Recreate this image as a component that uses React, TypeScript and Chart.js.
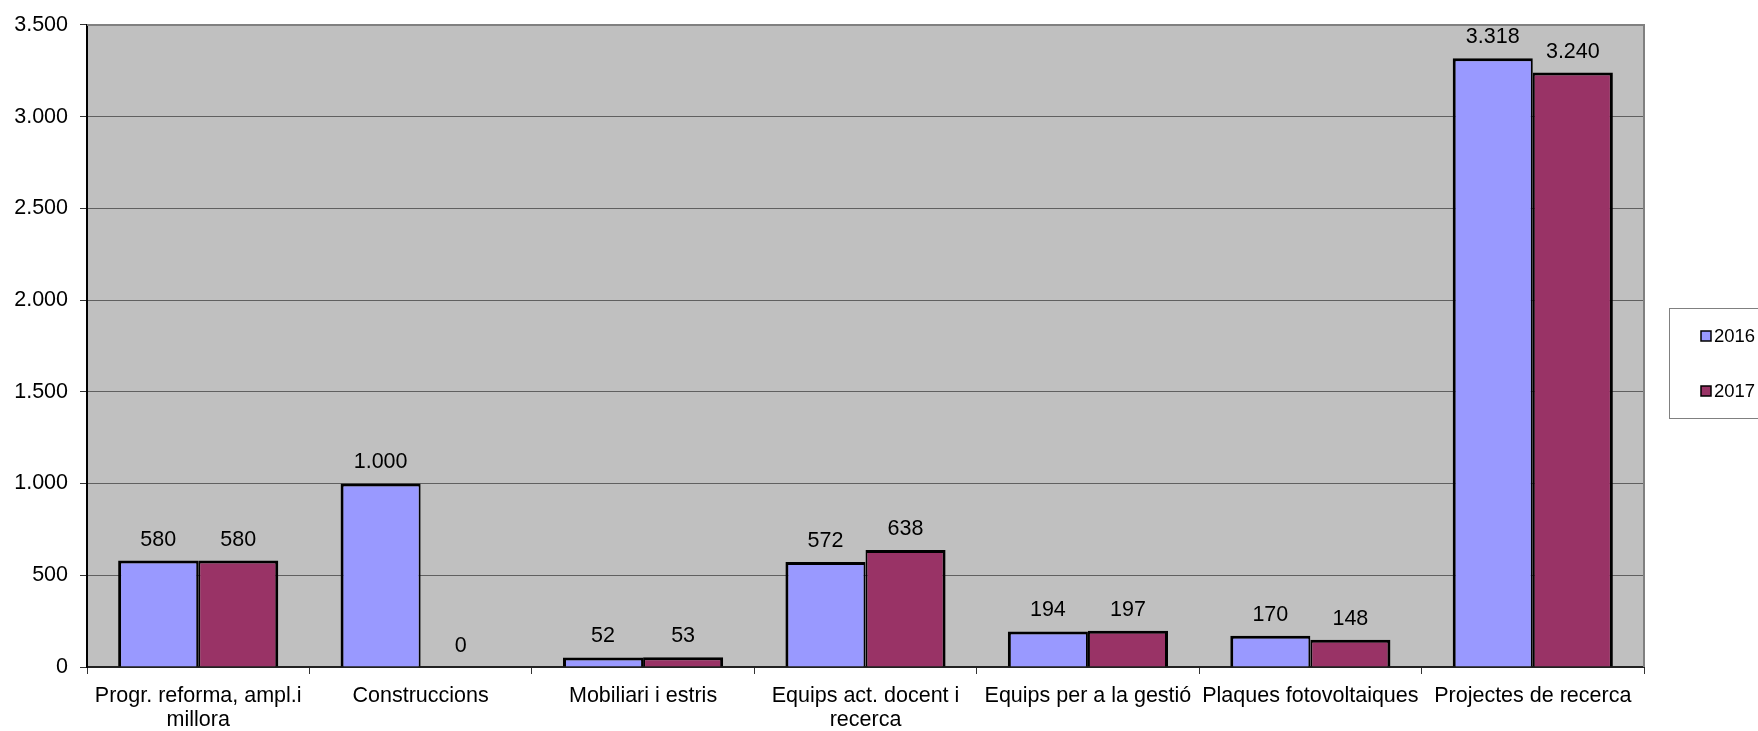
import React, { useEffect, useRef } from "react";
import { Chart, registerables } from "chart.js";

Chart.register(...registerables);

const categories: (string | string[])[] = [
  ["Progr. reforma, ampl.i", "millora"],
  "Construccions",
  "Mobiliari i estris",
  ["Equips act. docent i", "recerca"],
  "Equips per a la gestió",
  "Plaques fotovoltaiques",
  "Projectes de recerca",
];
const seriesLabels = ["2016", "2017"];
const values2016 = [580, 1000, 52, 572, 194, 170, 3318];
const values2017 = [580, 0, 53, 638, 197, 148, 3240];
const yMin = 0;
const yMax = 3500;
const yStep = 500;

const FONT = "'Liberation Sans', Arial, sans-serif";

function fmt(n: number): string {
  return Math.round(n).toString().replace(/\B(?=(\d{3})+(?!\d))/g, ".");
}

const plotBg = {
  id: "plotBg",
  beforeDraw(chart: any) {
    const { ctx, chartArea } = chart;
    ctx.save();
    ctx.fillStyle = "#C0C0C0";
    ctx.fillRect(chartArea.left, chartArea.top, chartArea.right - chartArea.left, chartArea.bottom - chartArea.top);
    ctx.restore();
  },
  afterDraw(chart: any) {
    const { ctx, chartArea } = chart;
    ctx.save();
    ctx.strokeStyle = "#808080";
    ctx.lineWidth = 2;
    ctx.beginPath();
    ctx.moveTo(chartArea.left, chartArea.top);
    ctx.lineTo(chartArea.right, chartArea.top);
    ctx.lineTo(chartArea.right, chartArea.bottom);
    ctx.stroke();
    ctx.restore();
  },
};

const barLabels = {
  id: "barLabels",
  afterDatasetsDraw(chart: any) {
    const { ctx } = chart;
    ctx.save();
    ctx.font = `21.5px ${FONT}`;
    ctx.fillStyle = "#000";
    ctx.textAlign = "center";
    ctx.textBaseline = "middle";
    chart.data.datasets.forEach((ds: any, di: number) => {
      const meta = chart.getDatasetMeta(di);
      meta.data.forEach((el: any, i: number) => {
        const v = ds.data[i];
        ctx.fillText(fmt(v), el.x, el.y - 21);
      });
    });
    ctx.restore();
  },
};

const boxLegend = {
  id: "boxLegend",
  afterDraw(chart: any) {
    const { ctx } = chart;
    const x0 = 1669;
    const y0 = 308;
    const w = 95;
    const h = 110;
    ctx.save();
    ctx.fillStyle = "#fff";
    ctx.fillRect(x0, y0, w, h);
    ctx.strokeStyle = "#808080";
    ctx.lineWidth = 1;
    ctx.strokeRect(x0 + 0.5, y0 + 0.5, w, h);
    ctx.font = `18.5px ${FONT}`;
    ctx.textBaseline = "middle";
    ctx.textAlign = "left";
    chart.data.datasets.forEach((ds: any, i: number) => {
      const cy = 336 + i * 55;
      ctx.fillStyle = ds.backgroundColor;
      ctx.fillRect(1701, cy - 5, 10, 10);
      ctx.strokeStyle = "#000";
      ctx.lineWidth = 1.5;
      ctx.strokeRect(1701, cy - 5, 10, 10);
      ctx.fillStyle = "#000";
      ctx.fillText(ds.label, 1714, cy + 1);
    });
    ctx.restore();
  },
};

export default function App() {
  const ref = useRef<HTMLCanvasElement>(null);

  useEffect(() => {
    const canvas = ref.current;
    if (!canvas) return;
    const chart = new Chart(canvas, {
      type: "bar",
      data: {
        labels: categories,
        datasets: [
          {
            label: seriesLabels[0],
            data: values2016,
            backgroundColor: "#9999FF",
            borderColor: "#000000",
            borderWidth: { top: 3, left: 3, right: 2, bottom: 0 },
            borderSkipped: "start",
            categoryPercentage: 0.72,
            barPercentage: 1,
          },
          {
            label: seriesLabels[1],
            data: values2017,
            backgroundColor: "#993366",
            borderColor: "#000000",
            borderWidth: { top: 3, left: 2, right: 3, bottom: 0 },
            borderSkipped: "start",
            categoryPercentage: 0.72,
            barPercentage: 1,
          },
        ],
      },
      options: {
        responsive: false,
        animation: false,
        devicePixelRatio: 1,
        layout: { padding: { top: 23, right: 114, left: 0, bottom: 0 } },
        plugins: {
          legend: { display: false },
          tooltip: { enabled: false },
          title: { display: false },
        },
        scales: {
          x: {
            offset: true,
            grid: {
              offset: true,
              drawOnChartArea: false,
              drawTicks: true,
              tickLength: 7,
              tickColor: "#333",
              lineWidth: 1,
            },
            border: { display: true, color: "#222", width: 2 },
            ticks: {
              color: "#000",
              font: { family: FONT, size: 21.5, lineHeight: 1.13 },
              maxRotation: 0,
              minRotation: 0,
              autoSkip: false,
              padding: 10,
            },
            afterFit(scale: any) {
              scale.height = 64;
            },
          },
          y: {
            min: yMin,
            max: yMax,
            grid: {
              color: "#606060",
              lineWidth: 1,
              drawTicks: true,
              tickLength: 7,
              tickColor: "#333",
            },
            border: { display: true, color: "#000", width: 2 },
            ticks: {
              stepSize: yStep,
              color: "#000",
              font: { family: FONT, size: 21.5 },
              padding: 12,
              callback: (v: any) => fmt(Number(v)),
            },
            afterFit(scale: any) {
              scale.width = 87;
            },
          },
        },
      },
      plugins: [plotBg, barLabels, boxLegend],
    } as any);
    return () => chart.destroy();
  }, []);

  return (
    <div style={{ position: "fixed", left: 0, top: 0, width: 1758, height: 731, background: "#fff", overflow: "hidden" }}>
      <canvas ref={ref} width={1758} height={731} style={{ display: "block", width: 1758, height: 731 }} />
    </div>
  );
}
